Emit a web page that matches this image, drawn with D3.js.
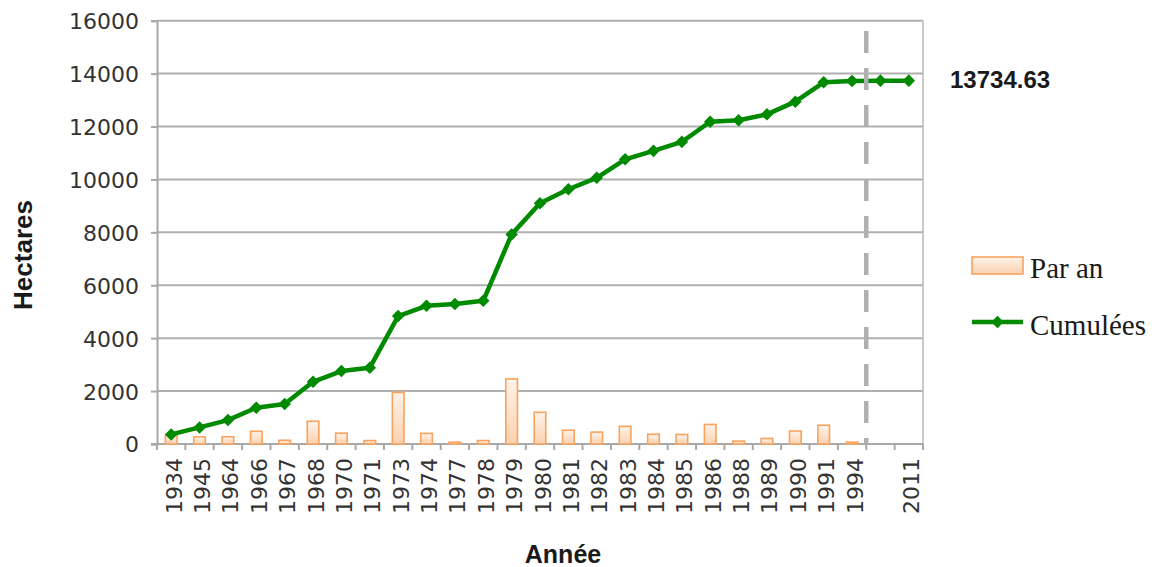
<!DOCTYPE html>
<html>
<head>
<meta charset="utf-8">
<script src="https://cdn.jsdelivr.net/npm/d3@7"></script>
<style>
  html, body { margin: 0; padding: 0; background: #fff; }
  svg { display: block; }
</style>
</head>
<body>
<svg id="chart" width="1156" height="567"></svg>
<script>
const categories = ["1934","1945","1964","1966","1967","1968","1970","1971","1973","1974","1977","1978","1979","1980","1981","1982","1983","1984","1985","1986","1988","1989","1990","1991","1994"," ","2011"];
const parAn = [350, 270, 275, 480, 140, 860, 410, 130, 1950, 400, 70, 130, 2460, 1200, 520, 450, 670, 370, 360, 740, 110, 210, 490, 710, 70, null, null];
const cumulees = [363, 627, 903, 1369, 1508, 2351, 2756, 2880, 4835, 5224, 5288, 5413, 7923, 9100, 9630, 10060, 10760, 11080, 11420, 12180, 12240, 12460, 12940, 13670, 13720, 13734.63, 13734.63];
const yTicks = [0, 2000, 4000, 6000, 8000, 10000, 12000, 14000, 16000];
const seriesNames = ["Par an", "Cumulées"];
const annotationLabel = "13734.63";
const xTitle = "Année";
const yTitle = "Hectares";
const splitAfter = "1994";

const svg = d3.select("#chart");
const L = 157, R = 923, T = 20.7, B = 444;

const x = d3.scaleBand().domain(categories).range([L, R]).padding(0);
const y = d3.scaleLinear().domain([0, 16000]).range([B, T]);

const defs = svg.append("defs");
const grad = defs.append("linearGradient").attr("id", "barGrad")
  .attr("x1", 0).attr("y1", 0).attr("x2", 0).attr("y2", 1);
grad.append("stop").attr("offset", "0%").attr("stop-color", "#fff3ea");
grad.append("stop").attr("offset", "100%").attr("stop-color", "#fcd1ae");

// gridlines
svg.append("g").selectAll("line").data(yTicks).join("line")
  .attr("x1", L).attr("x2", R)
  .attr("y1", d => y(d)).attr("y2", d => y(d))
  .attr("stroke", "#b0b0b0").attr("stroke-width", 2);

// right border
svg.append("line").attr("x1", R).attr("x2", R).attr("y1", T).attr("y2", B)
  .attr("stroke", "#b8b8b8").attr("stroke-width", 1.5);

// Y axis
const yAxis = d3.axisLeft(y).tickValues(yTicks).tickSize(6).tickPadding(12).tickFormat(d3.format("d"));
const gy = svg.append("g").attr("transform", `translate(${L},0)`).call(yAxis);
gy.select(".domain").attr("stroke", "#a8a8a8").attr("stroke-width", 2);
gy.selectAll(".tick line").attr("stroke", "#a8a8a8").attr("stroke-width", 2);
gy.selectAll(".tick text").attr("font-family", "DejaVu Sans").attr("font-size", 22)
  .attr("fill", "#333333").attr("dy", "0.36em");

// X axis line and ticks at boundaries
const gx = svg.append("g");
gx.append("line").attr("x1", L - 6).attr("x2", R).attr("y1", B).attr("y2", B)
  .attr("stroke", "#a8a8a8").attr("stroke-width", 2);
const bounds = categories.map(c => x(c)).concat([R]);
gx.selectAll("line.tk").data(bounds).join("line").attr("class", "tk")
  .attr("x1", d => d).attr("x2", d => d).attr("y1", B).attr("y2", B + 6)
  .attr("stroke", "#a8a8a8").attr("stroke-width", 2);
gx.selectAll("text").data(categories).join("text")
  .attr("transform", d => `translate(${x(d) + x.bandwidth() / 2 + 10.5},${458}) rotate(-90)`)
  .attr("text-anchor", "end")
  .attr("font-family", "DejaVu Sans").attr("font-size", 22).attr("fill", "#333333")
  .text(d => d.trim());

// bars
const bw = x.bandwidth() * 0.41;
svg.append("g").selectAll("rect")
  .data(categories.map((c, i) => ({ c, v: parAn[i] })).filter(d => d.v != null))
  .join("rect")
  .attr("x", d => x(d.c) + x.bandwidth() / 2 - bw / 2)
  .attr("y", d => y(d.v))
  .attr("width", bw)
  .attr("height", d => B - y(d.v))
  .attr("fill", "url(#barGrad)")
  .attr("stroke", "#f8a35f").attr("stroke-width", 1.6);

// line
const green = "#008a00";
const pts = categories.map((c, i) => ({ c, v: cumulees[i] }));
const line = d3.line().x(d => x(d.c) + x.bandwidth() / 2).y(d => y(d.v));
svg.append("path").datum(pts).attr("d", line)
  .attr("fill", "none").attr("stroke", green).attr("stroke-width", 4.5).attr("stroke-linejoin", "round");
const diamond = d3.symbol().type(d3.symbolDiamond2).size(100);
svg.append("g").selectAll("path").data(pts).join("path")
  .attr("d", diamond)
  .attr("transform", d => `translate(${x(d.c) + x.bandwidth() / 2},${y(d.v)})`)
  .attr("fill", green);

// dashed split line
const sx = x(splitAfter) + x.bandwidth();
svg.append("line").attr("x1", sx).attr("x2", sx).attr("y1", 31).attr("y2", B)
  .attr("stroke", "#b0b0b0").attr("stroke-width", 4.5).attr("stroke-dasharray", "22,15");

// annotation
svg.append("text").attr("x", 950).attr("y", 88)
  .attr("font-family", "Liberation Sans").attr("font-weight", "bold").attr("font-size", 24)
  .attr("fill", "#1a1a1a").text(annotationLabel);

// axis titles
svg.append("text").attr("x", 563).attr("y", 563).attr("text-anchor", "middle")
  .attr("font-family", "Liberation Sans").attr("font-weight", "bold").attr("font-size", 25)
  .attr("fill", "#1a1a1a").text(xTitle);
svg.append("text").attr("transform", "translate(32,255) rotate(-90)").attr("text-anchor", "middle")
  .attr("font-family", "Liberation Sans").attr("font-weight", "bold").attr("font-size", 26)
  .attr("fill", "#1a1a1a").text(yTitle);

// legend
const lg = svg.append("g");
lg.append("rect").attr("x", 972).attr("y", 257).attr("width", 51).attr("height", 17)
  .attr("fill", "url(#barGrad)").attr("stroke", "#f8a35f").attr("stroke-width", 1.6);
lg.append("text").attr("x", 1030).attr("y", 278)
  .attr("font-family", "Liberation Serif").attr("font-size", 29).attr("fill", "#1a1a1a").text(seriesNames[0]);
lg.append("line").attr("x1", 972).attr("x2", 1023).attr("y1", 322).attr("y2", 322)
  .attr("stroke", green).attr("stroke-width", 4.5);
lg.append("path").attr("d", diamond).attr("transform", "translate(997.5,322)").attr("fill", green);
lg.append("text").attr("x", 1030).attr("y", 335)
  .attr("font-family", "Liberation Serif").attr("font-size", 29).attr("fill", "#1a1a1a").text(seriesNames[1]);
</script>
</body>
</html>
